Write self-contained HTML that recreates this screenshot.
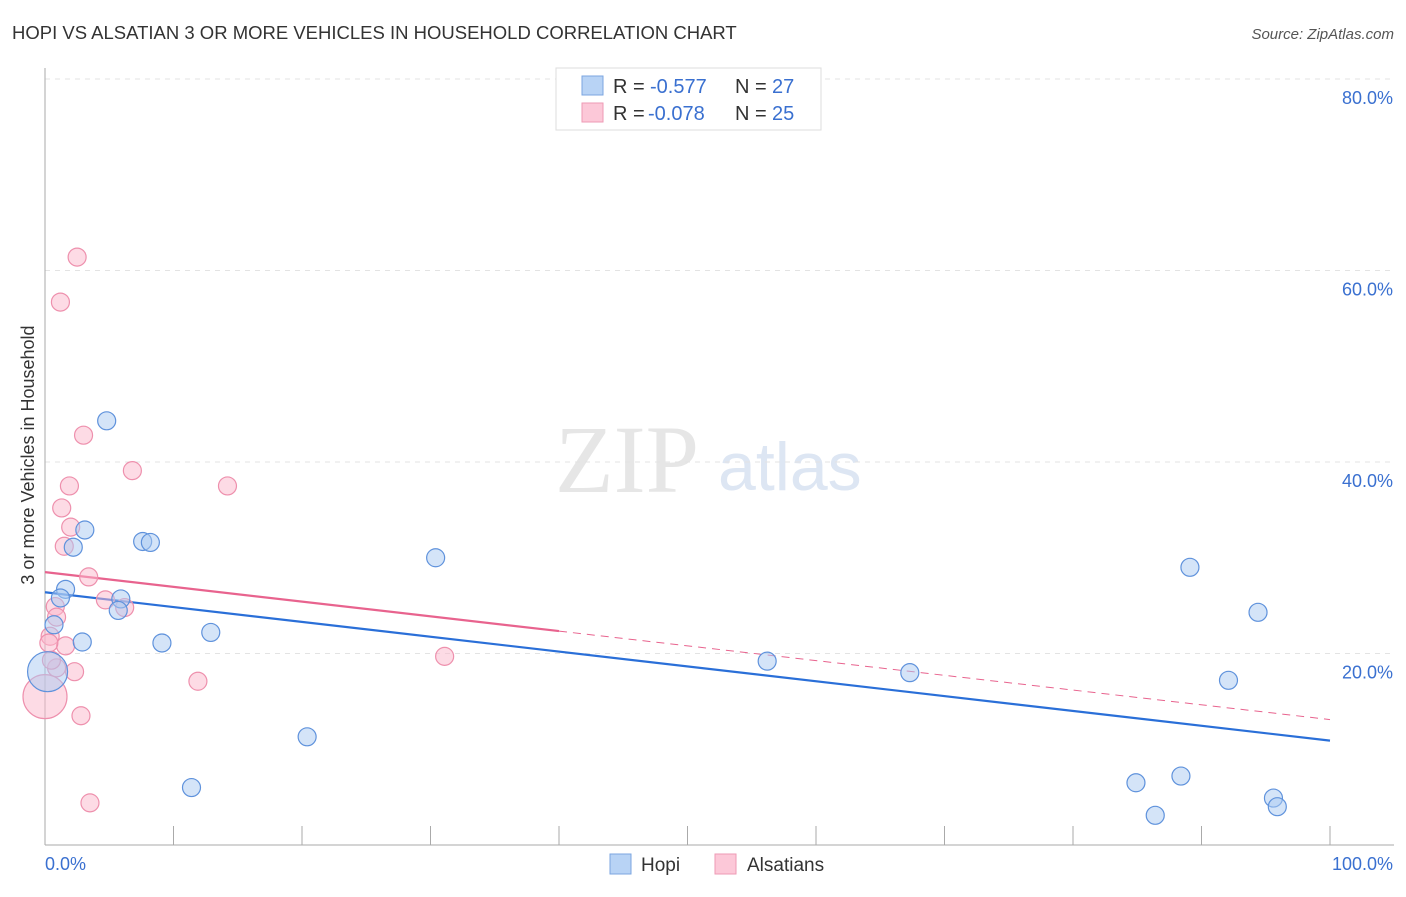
<!DOCTYPE html>
<html><head><meta charset="utf-8"><style>
body{margin:0;background:#fff;font-family:"Liberation Sans",sans-serif;}
</style></head><body>
<svg width="1406" height="892" xmlns="http://www.w3.org/2000/svg">
<text x="12" y="39" font-size="18.5" fill="#333">HOPI VS ALSATIAN 3 OR MORE VEHICLES IN HOUSEHOLD CORRELATION CHART</text>
<text x="1394" y="39" font-size="15" fill="#555" text-anchor="end" font-style="italic">Source: ZipAtlas.com</text>
<text x="555" y="492" font-size="96" fill="#e6e6e6" font-family="Liberation Serif,serif">ZIP</text>
<text x="718" y="490" font-size="68" fill="#dde6f3">atlas</text>
<g id="grid"></g>
<g id="axes"></g>
<text transform="translate(34,455) rotate(-90)" font-size="18" fill="#333" text-anchor="middle">3 or more Vehicles in Household</text>
<g id="lines"></g>
<g id="points"></g>
<g>
<rect x="556" y="68" width="265" height="62" fill="#fff" stroke="#ddd"/>
<rect x="582" y="76" width="21" height="19" fill="#b8d3f5" stroke="#7ba6e0"/>
<rect x="582" y="103" width="21" height="19" fill="#fcc8d8" stroke="#ee9ab4"/>
<text x="613" y="93" font-size="20" fill="#333">R = <tspan x="650" fill="#3a70d0">-0.577</tspan><tspan x="735">N = </tspan><tspan x="772" fill="#3a70d0">27</tspan></text>
<text x="613" y="120" font-size="20" fill="#333">R = <tspan x="648" fill="#3a70d0">-0.078</tspan><tspan x="735">N = </tspan><tspan x="772" fill="#3a70d0">25</tspan></text>
</g>
<g>
<rect x="610" y="854" width="21" height="20" fill="#b8d3f5" stroke="#7ba6e0"/>
<text x="641" y="871" font-size="19" fill="#333">Hopi</text>
<rect x="715" y="854" width="21" height="20" fill="#fcc8d8" stroke="#ee9ab4"/>
<text x="747" y="871" font-size="19" fill="#333">Alsatians</text>
</g>
</svg>
<script>
const yTicks=[20,40,60,80];
const yTickLabels=["20.0%","40.0%","60.0%","80.0%"];
const xTickVals=[0,10,20,30,40,50,60,70,80,90,100];
const hopiX=[4.8,3.1,2.2,7.6,8.2,1.6,1.2,0.7,2.9,5.9,5.7,9.1,12.9,0.2,11.4,20.4,30.4,56.2,67.3,89.1,94.4,92.1,84.9,88.4,86.4,95.6,95.9];
const hopiY=[44.3,32.9,31.1,31.7,31.6,26.7,25.8,23.0,21.2,25.7,24.5,21.1,22.2,18.1,6.0,11.3,30.0,19.2,18.0,29.0,24.3,17.2,6.5,7.2,3.1,4.9,4.0];
const hopiR=[9,9,9,9,9,9,9,9,9,9,9,9,9,20,9,9,9,9,9,9,9,9,9,9,9,9,9];
const alsX=[2.5,1.2,3.0,6.8,14.2,1.9,1.3,2.0,1.5,3.4,4.7,6.2,0.8,0.9,0.4,1.6,0.9,2.3,31.1,11.9,0,2.8,3.5,0.5,0.3];
const alsY=[61.4,56.7,42.8,39.1,37.5,37.5,35.2,33.2,31.2,28.0,25.6,24.8,24.9,23.8,21.8,20.8,18.5,18.1,19.7,17.1,15.5,13.5,4.4,19.3,21.1];
const alsR=[9,9,9,9,9,9,9,9,9,9,9,9,9,9,9,9,9,9,9,9,22,9,9,9,9];
const hopiTrend=[26.4,10.9];
const alsTrend=[28.5,13.1];
const alsSolidEnd=40;
const X=v=>45+v/100*1285, Y=v=>845-v/20*191.5;
const NS="http://www.w3.org/2000/svg";
function mk(parent,tag,attrs){const e=document.createElementNS(NS,tag);for(const k in attrs)e.setAttribute(k,attrs[k]);document.getElementById(parent).appendChild(e);return e;}
yTicks.forEach((t,i)=>{
 const l=mk('grid','line',{x1:45,x2:1394,y1:Y(t),y2:Y(t),stroke:'#e3e3e3','stroke-dasharray':'5,5'});
 
 
 const tx=mk('grid','text',{x:1393,y:Y(t)+25,'font-size':18,fill:'#3a70d0','text-anchor':'end'});
 tx.textContent=yTickLabels[i];
 
 
});
const ya=mk('axes','line',{x1:45,x2:45,y1:68,y2:845,stroke:'#aaa'});


const xa=mk('axes','line',{x1:45,x2:1394,y1:845,y2:845,stroke:'#aaa'});


xTickVals.forEach(v=>{const t=mk('axes','line',{x1:X(v),x2:X(v),y1:826,y2:845,stroke:'#aaa'});
 
 });
const x0=mk('axes','text',{x:45,y:870,'font-size':18,fill:'#3a70d0'});x0.textContent='0.0%';


const x1=mk('axes','text',{x:1393,y:870,'font-size':18,fill:'#3a70d0','text-anchor':'end'});x1.textContent='100.0%';


function pts(xs,ys,rs,fill,stroke,name){xs.forEach((x,i)=>{const c=mk('points','circle',{cx:X(x),cy:Y(ys[i]),r:rs[i],fill:fill,stroke:stroke,'stroke-width':1.2,'fill-opacity':0.5});
 
 });}
pts(alsX,alsY,alsR,'#fbb8cc','#ee90ad','alsatians-point');
pts(hopiX,hopiY,hopiR,'#aac9f2','#5f92dc','hopi-point');
const lerp=(a,v)=>a[0]+(a[1]-a[0])*v/100;
const hl=mk('lines','line',{x1:X(0),y1:Y(hopiTrend[0]),x2:X(100),y2:Y(hopiTrend[1]),stroke:'#2a6fd8','stroke-width':2.2});


const al=mk('lines','line',{x1:X(0),y1:Y(alsTrend[0]),x2:X(alsSolidEnd),y2:Y(lerp(alsTrend,alsSolidEnd)),stroke:'#e8638e','stroke-width':2.2});


const ad=mk('lines','line',{x1:X(alsSolidEnd),y1:Y(lerp(alsTrend,alsSolidEnd)),x2:X(100),y2:Y(alsTrend[1]),stroke:'#e8638e','stroke-width':1,'stroke-dasharray':'8,6'});


</script>
</body></html>
